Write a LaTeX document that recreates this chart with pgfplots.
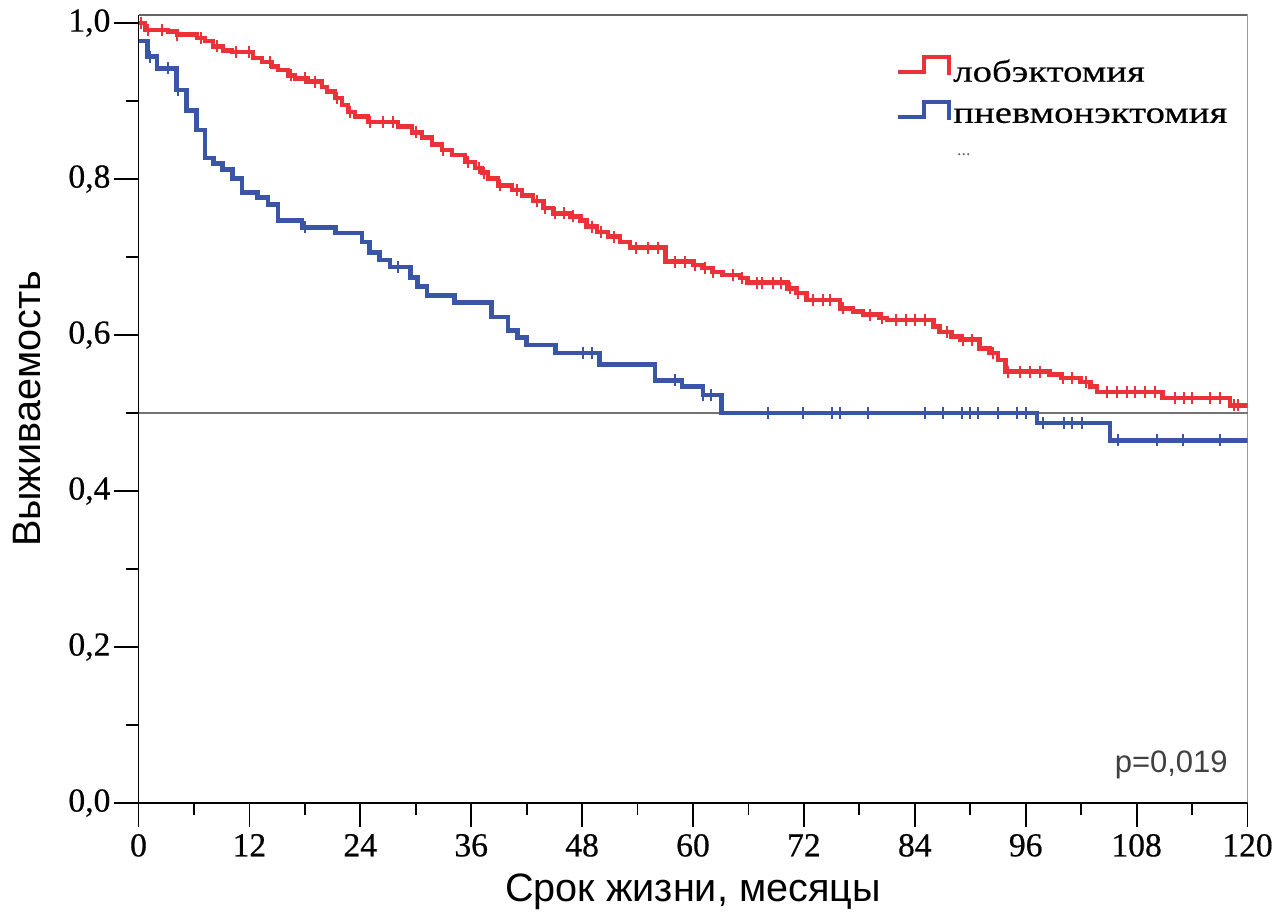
\documentclass[border=0pt]{standalone}
\usepackage{fontspec}
\setmainfont{Liberation Serif}
\setsansfont{Liberation Sans}
\newfontfamily\legendfont[FakeStretch=1.25,FakeBold=0.4]{Liberation Serif}
\newfontfamily\tickfont[FakeBold=0.5]{Liberation Serif}
\usepackage{pgfplots}
\pgfplotsset{compat=1.18}

\definecolor{kmred}{RGB}{234,50,56}
\definecolor{kmblue}{RGB}{58,84,166}

\begin{document}
\begin{tikzpicture}
\useasboundingbox (0,0) rectangle (639pt,460.5pt);
\begin{axis}[
    at={(69.25pt,59pt)}, anchor=south west,
    scale only axis, width=554.5pt, height=394pt,
    xmin=0, xmax=120, ymin=0, ymax=1.0103,
    axis x line*=bottom, axis y line*=left,
    axis line style={-, black, line width=0.9pt},
    tick align=outside,
    major tick length=12pt, minor tick length=6pt,
    tick style={black, line width=0.9pt},
    xtick={0,12,...,120},
    xticklabels={0,12,24,36,48,60,72,84,96,108,120},
    ytick={0,0.2,0.4,0.6,0.8,1.0},
    yticklabels={{0,0},{0,2},{0,4},{0,6},{0,8},{1,0}},
    minor x tick num=1, minor y tick num=1,
    ticklabel style={font=\tickfont\fontsize{16.8}{18}\selectfont},
    yticklabel style={xshift=1.5pt},
    xlabel={Срок жизни, месяцы},
    ylabel={Выживаемость},
    label style={font=\sffamily\fontsize{19.8}{22}\selectfont},
    xlabel style={at={([yshift=-49pt]axis description cs:0.5,0)}, anchor=base},
    ylabel style={at={([xshift=-49pt]axis description cs:0,0.5)}, anchor=base, rotate=0},
    legend style={draw=none, fill=none, at={(0.677,0.955)}, anchor=north west,
        font=\legendfont\fontsize{15.5}{18}\selectfont, row sep=6.5pt,
        nodes={inner sep=1pt}},
    legend cell align=left,
    legend image code/.code={\draw[#1] (0pt,0pt) -- (13pt,0pt) -- (13pt,7.5pt) -- (25.5pt,7.5pt) -- (25.5pt,-1.5pt);},
]
% reference line at 0.5
\addplot[black!55, line width=0.75pt, forget plot] coordinates {(0,0.5) (120,0.5)};

% lobectomy
\addplot[kmred, line width=2.3pt, const plot] coordinates {
(0,1.000) (0.7,0.991) (3.2,0.989) (4.17,0.985) (6.33,0.981) (7.2,0.977)
(8.06,0.970) (9.14,0.965) (10.12,0.963) (12.39,0.955) (13.37,0.950)
(14.45,0.944) (15.09,0.940) (16.18,0.933) (16.93,0.929) (18.34,0.925)
(19.86,0.918) (20.40,0.912) (21.26,0.904) (22.02,0.895) (22.67,0.886)
(23.43,0.880) (24.83,0.873) (28.08,0.867) (29.59,0.860) (30.68,0.853)
(31.76,0.844) (32.84,0.837) (33.92,0.831) (35.33,0.822) (36.41,0.814)
(37.17,0.808) (37.82,0.801) (38.9,0.792) (40.4,0.786) (41.5,0.779)
(42.7,0.772) (43.8,0.763) (44.85,0.756) (46.7,0.752) (47.8,0.747)
(48.5,0.739) (49.6,0.732) (50.8,0.726) (52.1,0.719) (53.2,0.712)
(57.0,0.694) (60.0,0.690) (61.0,0.686) (62.1,0.681) (63.2,0.677)
(65.1,0.673) (65.9,0.667) (70.2,0.660) (71.2,0.654) (72.3,0.645)
(75.9,0.634) (77.3,0.630) (78.4,0.626) (80.2,0.622) (81.0,0.619)
(86.0,0.611) (86.7,0.604) (88.0,0.598) (88.9,0.594) (91.0,0.583)
(92.1,0.577) (93.0,0.568) (93.8,0.553) (98.6,0.549) (99.9,0.545)
(101.9,0.540) (103.0,0.534) (103.7,0.527) (110.8,0.519) (118.1,0.510)
(120,0.510)
};
\addlegendentry{лобэктомия}

% pneumonectomy
\addplot[kmblue, line width=2.3pt, const plot] coordinates {
(0,0.977) (1.0,0.957) (2.0,0.942) (4.1,0.914) (5.2,0.888) (6.3,0.863)
(7.2,0.827) (8.1,0.820) (9.1,0.812) (10.2,0.801) (11.2,0.783)
(12.9,0.776) (14.0,0.767) (15.1,0.747) (17.7,0.738) (21.3,0.731)
(24.2,0.719) (25.0,0.706) (26.1,0.696) (27.2,0.687) (29.4,0.674)
(30.2,0.662) (31.2,0.651) (34.2,0.642) (38.2,0.623) (40.0,0.606)
(41.0,0.597) (42.0,0.587) (45.1,0.577) (49.9,0.562) (55.9,0.542)
(58.8,0.534) (61.1,0.523) (63.1,0.500) (97.2,0.487) (105.1,0.465)
(120,0.465)
};
\addlegendentry{пневмонэктомия}

% censored observations
\addplot[kmred, only marks, mark=|, mark size=3pt, line width=1pt, forget plot] coordinates {
(0.3,1.000) (1.04,0.991) (2.5,0.991) (4.2,0.985) (6.8,0.981) (8.5,0.970)
(10.5,0.963) (12.0,0.963) (14.2,0.950) (16.5,0.933) (18.0,0.929)
(19.1,0.925) (21.5,0.904) (22.9,0.886) (25.0,0.873) (26.5,0.873)
(27.5,0.873) (30.0,0.860) (33.0,0.837) (35.6,0.822) (36.8,0.814)
(37.4,0.808) (39.1,0.792) (41.0,0.786) (43.1,0.772) (44.0,0.763)
(45.1,0.756) (46.0,0.756) (47.0,0.752) (49.1,0.739) (50.0,0.732)
(51.5,0.726) (53.8,0.712) (55.1,0.712) (56.2,0.712) (58.0,0.694)
(59.1,0.694) (60.2,0.690) (61.3,0.686) (62.2,0.681) (64.3,0.677)
(65.3,0.673) (66.9,0.667) (67.5,0.667) (68.7,0.667) (69.5,0.667)
(70.5,0.660) (71.4,0.654) (73.0,0.645) (74.1,0.645) (74.8,0.645)
(76.2,0.634) (79.1,0.626) (80.4,0.622) (82.0,0.619) (83.0,0.619)
(84.0,0.619) (85.1,0.619) (87.5,0.604) (89.2,0.594) (90.2,0.594)
(92.5,0.577) (94.1,0.553) (95.4,0.553) (96.5,0.553) (97.5,0.553)
(100.0,0.545) (101.0,0.545) (102.5,0.540) (104.8,0.527) (105.9,0.527)
(107.0,0.527) (107.8,0.527) (108.9,0.527) (110.0,0.527) (112.2,0.519)
(113.1,0.519) (114.0,0.519) (115.9,0.519) (117.0,0.519) (118.5,0.510)
(119.0,0.510)
};
\addplot[kmblue, only marks, mark=|, mark size=3pt, line width=1pt, forget plot] coordinates {
(1.25,0.957) (3.2,0.942) (4.3,0.914) (18.0,0.738) (28.1,0.687)
(48.1,0.577) (49.1,0.577) (58.1,0.542) (61.1,0.523) (62.0,0.523)
(68.1,0.5) (71.9,0.5) (75.0,0.5) (75.9,0.5) (78.9,0.5) (85.1,0.5)
(87.1,0.5) (89.1,0.5) (90.0,0.5) (90.8,0.5) (93.0,0.5) (95.1,0.5)
(96.0,0.5) (97.9,0.487) (100.1,0.487) (101.0,0.487) (102.1,0.487)
(106.0,0.465) (110.2,0.465) (113.0,0.465) (117.0,0.465)
};

% frame on top and right
\draw[black!60, line width=0.75pt] (rel axis cs:0,1) -- (rel axis cs:1,1) -- (rel axis cs:1,0);

\node[font=\sffamily\fontsize{15.5}{17}\selectfont, text=black!75, anchor=base east, inner sep=0pt]
    at (axis cs:117.9,0.0385) {p=0,019};
\node[font=\fontsize{9}{10}\selectfont, text=black!60, inner sep=0pt]
    at (axis cs:89.3,0.831) {...};
\end{axis}
\end{tikzpicture}
\end{document}
